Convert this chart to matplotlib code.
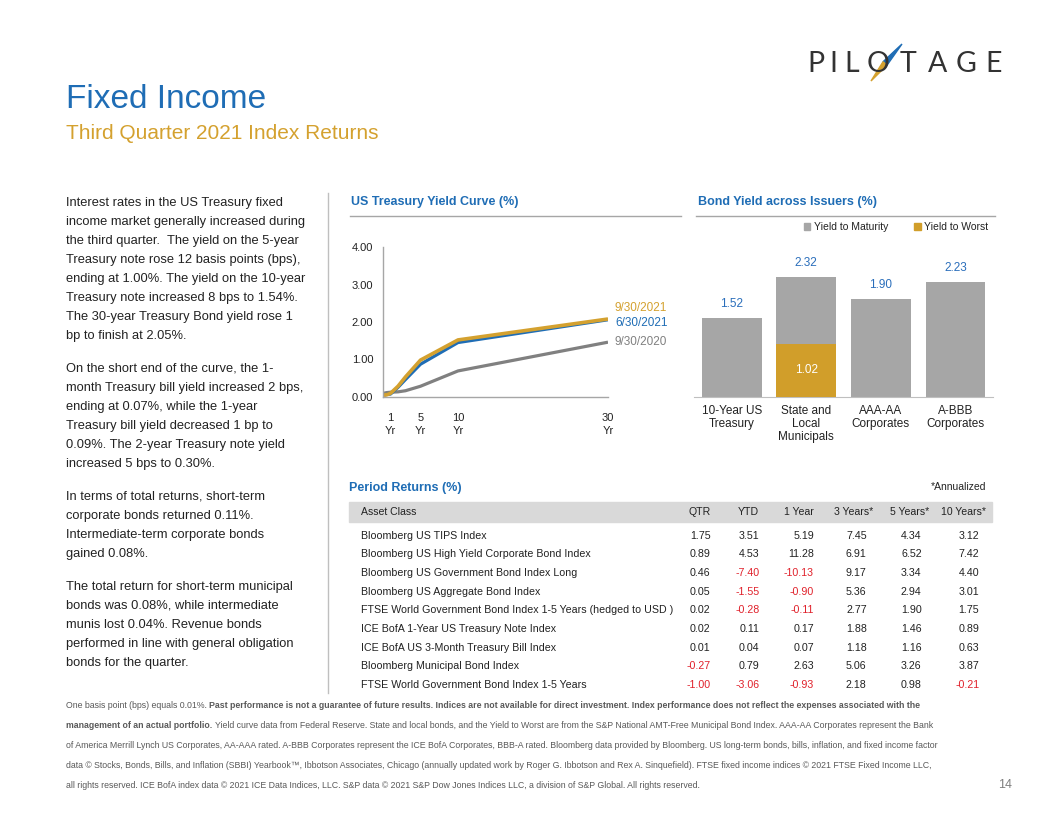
import matplotlib
matplotlib.use('Agg')
import matplotlib.pyplot as plt
from matplotlib.patches import Rectangle, Polygon
from matplotlib.lines import Line2D
from matplotlib.ticker import FormatStrFormatter
from matplotlib import font_manager

W, H = 1056, 816

# yield curve data (years to maturity, yield %)
curve_years = [1/12, 0.25, 0.5, 1, 2, 3, 5, 10, 30]
curve_sep2021 = [0.07, 0.04, 0.05, 0.09, 0.28, 0.53, 0.98, 1.52, 2.08]
curve_jun2021 = [0.05, 0.05, 0.06, 0.07, 0.25, 0.46, 0.87, 1.45, 2.06]
curve_sep2020 = [0.09, 0.10, 0.11, 0.12, 0.13, 0.16, 0.28, 0.69, 1.46]
curve_names = ['9/30/2021', '6/30/2021', '9/30/2020']
curve_ticks = [1, 5, 10, 30]
curve_ticklabels = ['1\nYr', '5\nYr', '10\nYr', '30\nYr']

# bond yield across issuers
issuers = ['10-Year US\nTreasury', 'State and\nLocal\nMunicipals', 'AAA-AA\nCorporates', 'A-BBB\nCorporates']
ytm = [1.52, 2.32, 1.90, 2.23]
ytw_issuer = [1]
ytw = [1.02]
yield_names = ['Yield to Maturity', 'Yield to Worst']

# period returns table
ret_cols = ['QTR', 'YTD', '1 Year', '3 Years*', '5 Years*', '10 Years*']
ret_names = ['Bloomberg US TIPS Index',
             'Bloomberg US High Yield Corporate Bond Index',
             'Bloomberg US Government Bond Index Long',
             'Bloomberg US Aggregate Bond Index',
             'FTSE World Government Bond Index 1-5 Years (hedged to USD )',
             'ICE BofA 1-Year US Treasury Note Index',
             'ICE BofA US 3-Month Treasury Bill Index',
             'Bloomberg Municipal Bond Index',
             'FTSE World Government Bond Index 1-5 Years']
ret_qtr = [1.75, 0.89, 0.46, 0.05, 0.02, 0.02, 0.01, -0.27, -1.00]
ret_ytd = [3.51, 4.53, -7.40, -1.55, -0.28, 0.11, 0.04, 0.79, -3.06]
ret_1y = [5.19, 11.28, -10.13, -0.90, -0.11, 0.17, 0.07, 2.63, -0.93]
ret_3y = [7.45, 6.91, 9.17, 5.36, 2.77, 1.88, 1.18, 5.06, 2.18]
ret_5y = [4.34, 6.52, 3.34, 2.94, 1.90, 1.46, 1.16, 3.26, 0.98]
ret_10y = [3.12, 7.42, 4.40, 3.01, 1.75, 0.89, 0.63, 3.87, -0.21]

paragraphs = [
    ['Interest rates in the US Treasury fixed',
     'income market generally increased during',
     'the third quarter.  The yield on the 5-year',
     'Treasury note rose 12 basis points (bps),',
     'ending at 1.00%. The yield on the 10-year',
     'Treasury note increased 8 bps to 1.54%.',
     'The 30-year Treasury Bond yield rose 1',
     'bp to finish at 2.05%.'],
    ['On the short end of the curve, the 1-',
     'month Treasury bill yield increased 2 bps,',
     'ending at 0.07%, while the 1-year',
     'Treasury bill yield decreased 1 bp to',
     '0.09%. The 2-year Treasury note yield',
     'increased 5 bps to 0.30%.'],
    ['In terms of total returns, short-term',
     'corporate bonds returned 0.11%.',
     'Intermediate-term corporate bonds',
     'gained 0.08%.'],
    ['The total return for short-term municipal',
     'bonds was 0.08%, while intermediate',
     'munis lost 0.04%. Revenue bonds',
     'performed in line with general obligation',
     'bonds for the quarter.'],
]

footnote = [
    [('One basis point (bps) equals 0.01%. ', 'normal'),
     ('Past performance is not a guarantee of future results. Indices are not available for direct investment. Index performance does not reflect the expenses associated with the', 'bold')],
    [('management of an actual portfolio. ', 'bold'),
     ('Yield curve data from Federal Reserve. State and local bonds, and the Yield to Worst are from the S&P National AMT-Free Municipal Bond Index. AAA-AA Corporates represent the Bank', 'normal')],
    [('of America Merrill Lynch US Corporates, AA-AAA rated. A-BBB Corporates represent the ICE BofA Corporates, BBB-A rated. Bloomberg data provided by Bloomberg. US long-term bonds, bills, inflation, and fixed income factor', 'normal')],
    [('data \u00a9 Stocks, Bonds, Bills, and Inflation (SBBI) Yearbook\u2122, Ibbotson Associates, Chicago (annually updated work by Roger G. Ibbotson and Rex A. Sinquefield). FTSE fixed income indices \u00a9 2021 FTSE Fixed Income LLC,', 'normal')],
    [('all rights reserved. ICE BofA index data \u00a9 2021 ICE Data Indices, LLC. S&P data \u00a9 2021 S&P Dow Jones Indices LLC, a division of S&P Global. All rights reserved.', 'normal')],
]

BLUE = '#1F6DB5'
GOLD = '#D4A12F'
GRAY = '#808080'
BARGRAY = '#A6A6A6'
RED = '#E0202A'
TXT = '#222222'

plt.rcParams['font.family'] = ['Liberation Sans', 'DejaVu Sans']

fig = plt.figure(figsize=(W / 100, H / 100), dpi=100)
r = fig.canvas.get_renderer()


def fx(x):
    return x / W


def fy(y):
    return 1 - y / H


def ftext(x, y, s, **kw):
    return fig.text(fx(x), fy(y), s, **kw)


def hline(x0, x1, y, color='#A6A6A6', lw=1.0):
    fig.add_artist(Line2D([fx(x0), fx(x1)], [fy(y), fy(y)], color=color, lw=lw))


# title + logo
ftext(66, 108, 'Fixed Income', fontsize=24, color=BLUE, va='baseline')
ftext(66, 139, 'Third Quarter 2021 Index Returns', fontsize=15, color=GOLD, va='baseline')

logo_x = [816, 833, 852, 878, 907.5, 937.5, 966.5, 993.5]
for ch, x in zip('PILOTAGE', logo_x):
    ftext(x, 72.5, ch, fontsize=20.5, color='#333333', ha='center', va='baseline',
          family=['Lato', 'DejaVu Sans'], fontweight='normal')
cx, cy = 885, 63.5
px_, py_ = 2.0, 1.7
fig.add_artist(Polygon([(fx(902), fy(44)), (fx(cx - px_), fy(cy - py_)), (fx(cx + px_), fy(cy + py_))],
                       closed=True, color='#1F6DB5', transform=fig.transFigure))
fig.add_artist(Polygon([(fx(871), fy(81)), (fx(cx - px_), fy(cy - py_)), (fx(cx + px_), fy(cy + py_))],
                       closed=True, color='#D4A12F', transform=fig.transFigure))

# left commentary
y = 203
for para in paragraphs:
    for line in para:
        ftext(66, y, line, fontsize=9.3, color=TXT, va='center')
        y += 19
    y += 14

fig.add_artist(Line2D([fx(328), fx(328)], [fy(193), fy(693)], color='#BFBFBF', lw=1))

# section headers
ftext(351, 202, 'US Treasury Yield Curve (%)', fontsize=9, fontweight='bold', color=BLUE, va='center')
hline(350, 681, 215.5)
ftext(698, 202, 'Bond Yield across Issuers (%)', fontsize=9, fontweight='bold', color=BLUE, va='center')
hline(696, 995, 216)
ftext(349, 488, 'Period Returns (%)', fontsize=9, fontweight='bold', color=BLUE, va='center')

# yield curve
ax1 = fig.add_axes([fx(383), fy(396.7), (608 - 383) / W, (396.7 - 247.3) / H])
ax1.plot(curve_years, curve_sep2020, color=GRAY, lw=2.3, solid_capstyle='butt')
ax1.plot(curve_years, curve_jun2021, color=BLUE, lw=2.3, solid_capstyle='butt')
ax1.plot(curve_years, curve_sep2021, color=GOLD, lw=2.6, solid_capstyle='butt')
ax1.set_xlim(0, 30)
ax1.set_ylim(0, 4)
ax1.set_yticks([0, 1, 2, 3, 4])
ax1.yaxis.set_major_formatter(FormatStrFormatter('%.2f'))
ax1.set_xticks(curve_ticks)
ax1.set_xticklabels(curve_ticklabels, linespacing=1.3)
ax1.tick_params(axis='y', length=0, pad=7, labelsize=8, labelcolor=TXT)
ax1.tick_params(axis='x', length=0, pad=12, labelsize=8, labelcolor=TXT)
for s in ['top', 'right']:
    ax1.spines[s].set_visible(False)
for s in ['left', 'bottom']:
    ax1.spines[s].set_color('#A6A6A6')
    ax1.spines[s].set_linewidth(1)
ends = [curve_sep2021[-1], curve_jun2021[-1], curve_sep2020[-1]]
offs = [11, -3, 0]
cols = [GOLD, BLUE, GRAY]
for name, v, o, c in zip(curve_names, ends, offs, cols):
    ax1.annotate(name, xy=(curve_years[-1], v), xytext=(7, o), textcoords='offset pixels',
                 fontsize=8.5, color=c, va='center', ha='left', annotation_clip=False)

# bond yields
ax2 = fig.add_axes([fx(694.4), fy(396.7), (992.8 - 694.4) / W, (396.7 - 240) / H])
xs = list(range(len(issuers)))
b1 = ax2.bar(xs, ytm, width=0.8, color=BARGRAY, zorder=2)
b2 = ax2.bar(ytw_issuer, ytw, width=0.8, color='#D19E2A', zorder=3)
ax2.bar_label(b1, fmt='%.2f', padding=6, fontsize=8.5, color='#2A6EBB')
ax2.bar_label(b2, fmt='%.2f', label_type='center', fontsize=8.5, color='white')
ax2.set_xlim(-0.5, len(issuers) - 0.5)
ax2.set_ylim(0, 156.7 / 51.5)
ax2.set_yticks([])
ax2.set_xticks(xs)
ax2.set_xticklabels(issuers, linespacing=1.12)
ax2.tick_params(axis='x', length=0, pad=6, labelsize=8.5, labelcolor=TXT)
for s in ['top', 'right', 'left']:
    ax2.spines[s].set_visible(False)
ax2.spines['bottom'].set_color('#BFBFBF')

# legend for bond yields
for (sx, tx), name, c in zip([(803.5, 814), (914, 924)], yield_names, [BARGRAY, '#D19E2A']):
    fig.add_artist(Rectangle((fx(sx), fy(230.3)), 6.8 / W, 6.8 / H, color=c, transform=fig.transFigure))
    ftext(tx, 227, name, fontsize=7.5, color=TXT, va='center')

# period returns table
fig.add_artist(Rectangle((fx(348.5), fy(521.7)), (992 - 348.5) / W, 19.4 / H,
                         color='#D9D9D9', transform=fig.transFigure, zorder=0))
ftext(986, 486.7, '*Annualized', fontsize=7.5, color=TXT, ha='right', va='center')
head_right = [710.7, 759.3, 814, 873, 929, 986]
val_right = [710.7, 759.3, 814, 866.7, 921.7, 979.3]
ftext(361, 512, 'Asset Class', fontsize=7.6, color=TXT, va='center')
for c, xr in zip(ret_cols, head_right):
    ftext(xr, 512, c, fontsize=7.6, color=TXT, ha='right', va='center')
columns = [ret_qtr, ret_ytd, ret_1y, ret_3y, ret_5y, ret_10y]
for i, name in enumerate(ret_names):
    yy = 535.7 + i * 18.67
    ftext(361, yy, name, fontsize=7.7, color=TXT, va='center')
    for col, xr in zip(columns, val_right):
        v = col[i]
        ftext(xr, yy, f'{v:.2f}', fontsize=7.7, color=RED if v < 0 else TXT, ha='right', va='center')

# footnote
names = {f.name for f in font_manager.fontManager.ttflist}
fn_family = 'Liberation Sans Narrow' if 'Liberation Sans Narrow' in names else 'Liberation Sans'
probe = ftext(0, 0, footnote[2][0][0], fontsize=10, family=fn_family)
wprobe = probe.get_window_extent(r).width
probe.remove()
fn_size = 10 * (938 - 66) / wprobe
for k, parts in enumerate(footnote):
    x = 66
    yy = 706 + k * 19.75
    for s, wt in parts:
        t = ftext(x, yy, s, fontsize=fn_size, fontweight=wt, family=fn_family, color='#595959', va='center')
        x += t.get_window_extent(r).width * W / fig.bbox.width
ftext(1012, 785, '14', fontsize=9, color='#7F7F7F', ha='right', va='center')

fig.savefig('out.png', dpi=100, facecolor='white')
